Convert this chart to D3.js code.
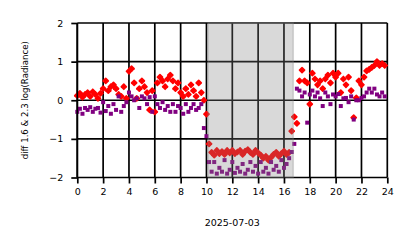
<!DOCTYPE html>
<html><head><meta charset="utf-8">
<script src="https://cdn.jsdelivr.net/npm/d3@7"></script>
<style>body{margin:0;background:#fff}svg{display:block}text{font-family:"DejaVu Sans",sans-serif}</style>
</head><body>
<script>
const hours = d3.range(120).map(i => +(i * 0.2).toFixed(1));
const redSeries = [
 0.12,0.18,0.08,0.15,0.2,0.1,0.22,0.15,0.05,0.18,
 0.3,0.5,0.25,0.35,0.4,0.3,0.15,0.1,0.35,0.05,
 0.75,0.82,0.45,0.05,0.3,0.5,0.35,0.2,-0.25,0.25,
 -0.3,0.45,0.6,0.5,0.35,0.55,0.65,0.5,0.3,0.45,
 0.2,0.1,0.3,0.15,0.4,0.25,0.1,0.45,0.2,0.0,
 -0.36,-1.13,-1.35,-1.42,-1.3,-1.38,-1.33,-1.4,-1.3,-1.36,
 -1.3,-1.38,-1.34,-1.3,-1.4,-1.32,-1.28,-1.35,-1.4,-1.3,
 -1.36,-1.42,-1.5,-1.45,-1.55,-1.48,-1.4,-1.35,-1.45,-1.38,
 -1.32,-1.4,-1.35,-0.8,-0.43,-0.6,0.5,0.78,0.5,0.45,
 -0.1,0.7,0.55,0.4,0.5,0.3,0.55,0.65,0.45,0.7,
 0.6,0.7,0.2,0.55,0.4,0.6,0.25,-0.45,0.06,0.5,
 0.4,0.6,0.76,0.8,0.85,0.9,1.0,0.9,0.95,0.9
];
const purpleSeries = [
 -0.3,-0.22,-0.35,-0.2,-0.25,-0.18,-0.3,-0.22,-0.2,-0.32,
 -0.05,-0.28,-0.15,-0.35,-0.1,-0.25,0.1,-0.3,-0.15,-0.05,
 0.2,0.1,0.0,0.05,-0.2,0.1,0.05,-0.1,0.08,-0.3,
 0.1,-0.1,-0.2,-0.05,-0.25,-0.15,-0.3,-0.1,-0.3,-0.15,
 -0.2,-0.35,-0.1,-0.3,-0.2,-0.1,-0.25,-0.2,-0.1,-0.72,
 -0.93,-1.6,-1.85,-1.6,-1.9,-1.75,-1.85,-1.55,-1.9,-1.8,
 -1.6,-1.88,-1.75,-1.85,-1.65,-1.9,-1.8,-1.6,-1.85,-1.7,
 -1.9,-1.6,-1.85,-1.75,-1.9,-1.6,-1.8,-1.7,-1.85,-1.55,
 -1.75,-1.65,-1.5,-1.34,-1.13,0.3,0.25,0.1,0.2,-0.58,
 0.15,0.25,0.1,0.2,0.05,-0.15,0.2,0.1,-0.1,0.15,
 0.1,0.16,-0.15,0.05,0.06,-0.05,0.1,-0.5,0.0,0.0,
 0.06,0.1,0.2,0.3,0.2,0.3,0.15,0.1,0.2,0.1
];
const xTicks = [0,2,4,6,8,10,12,14,16,18,20,22,24];
const yTicks = [-2,-1,0,1,2];
const spanHours = [10.12, 16.72];
const xLabel = "2025-07-03";
const yLabel = "diff 1.6 & 2.3  log(Radiance)";

const W = 414, H = 248;
const svg = d3.select("body").append("svg").attr("width", W).attr("height", H);
const x = d3.scaleLinear().domain([0, 24]).range([77.3, 387.3]);
const y = d3.scaleLinear().domain([-2, 2]).range([177.5, 23]);

// grid
const g = svg.append("g");
g.selectAll("line.vx").data(xTicks).join("line")
  .attr("x1", d => x(d)).attr("x2", d => x(d)).attr("y1", y(-2)).attr("y2", y(2))
  .attr("stroke", "#000").attr("stroke-width", 1.7);
g.selectAll("line.hy").data(yTicks).join("line")
  .attr("x1", x(0)).attr("x2", x(24)).attr("y1", d => y(d)).attr("y2", d => y(d))
  .attr("stroke", "#000").attr("stroke-width", 1.7);

// points
const red = hours.map((t, i) => [t, redSeries[i]]);
const pur = hours.map((t, i) => [t, purpleSeries[i]]);
svg.append("g").selectAll("rect").data(red).join("rect")
  .attr("x", -2.6).attr("y", -2.6).attr("width", 5.2).attr("height", 5.2).attr("rx", 0.8)
  .attr("transform", d => `translate(${x(d[0])},${y(d[1])}) rotate(45)`)
  .attr("fill", "#ff0000");
svg.append("g").selectAll("rect").data(pur).join("rect")
  .attr("x", d => x(d[0]) - 2).attr("y", d => y(d[1]) - 2)
  .attr("width", 4).attr("height", 4).attr("fill", "#800080");

// span
svg.append("rect")
  .attr("x", x(spanHours[0])).attr("y", y(2))
  .attr("width", x(spanHours[1]) - x(spanHours[0])).attr("height", y(-2) - y(2))
  .attr("fill", "#808080").attr("fill-opacity", 0.3)
  .attr("stroke", "#808080").attr("stroke-opacity", 0.3).attr("stroke-width", 1.5);

// axes
const xa = svg.append("g").attr("transform", `translate(0,${y(-2)})`)
  .call(d3.axisBottom(x).tickValues(xTicks).tickSize(6).tickPadding(5).tickFormat(d3.format("d")));
const ya = svg.append("g").attr("transform", `translate(${x(0)},0)`)
  .call(d3.axisLeft(y).tickValues(yTicks).tickSize(6).tickPadding(8).tickFormat(d => d < 0 ? "\u2212" + Math.abs(d) : d));
[xa, ya].forEach(a => {
  a.select(".domain").remove();
  a.selectAll(".tick line").attr("stroke", "#000").attr("stroke-width", 1.7);
  a.selectAll(".tick text").attr("font-size", 9.5).attr("fill", "#000").attr("font-family", "DejaVu Sans");
});
svg.append("line").attr("x1", x(0)).attr("x2", x(0)).attr("y1", y(2)).attr("y2", y(-2))
  .attr("stroke", "#000").attr("stroke-width", 1.7);

svg.append("text").attr("x", (x(0) + x(24)) / 2).attr("y", 226).attr("text-anchor", "middle")
  .attr("font-size", 9.5).text(xLabel);
svg.append("text").attr("transform", `translate(28,${(y(2) + y(-2)) / 2}) rotate(-90)`)
  .attr("text-anchor", "middle").attr("font-size", 8.6).text(yLabel);
</script>
</body></html>
